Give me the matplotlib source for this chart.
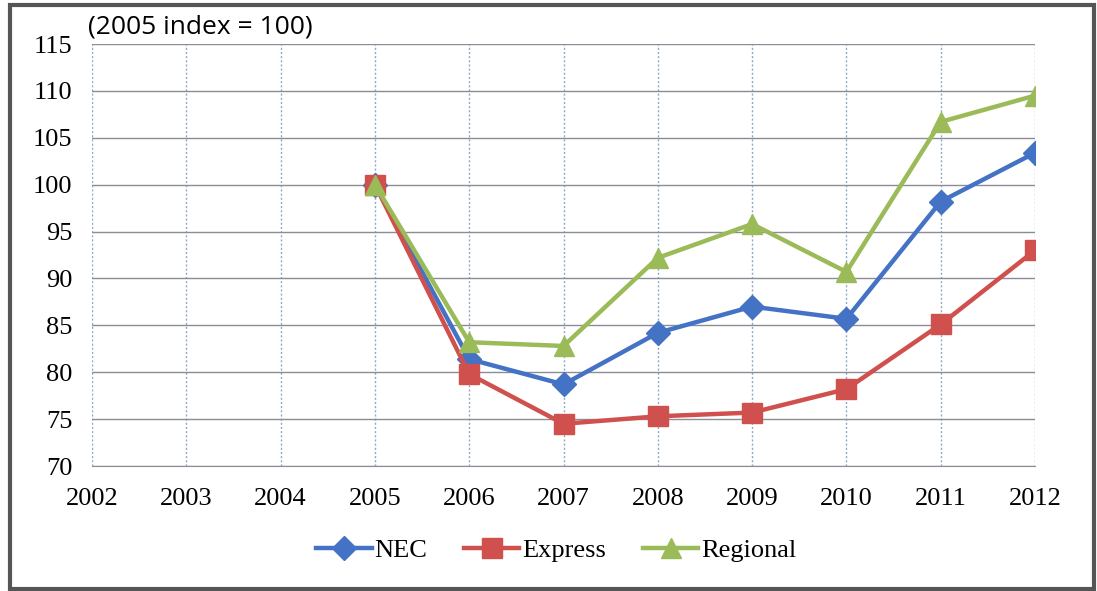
import matplotlib
matplotlib.use("Agg")
import matplotlib.pyplot as plt
import matplotlib.patches as mpatches

years = [2002, 2003, 2004, 2005, 2006, 2007, 2008, 2009, 2010, 2011, 2012]
year_labels = [str(y) for y in years]
y_ticks = [70, 75, 80, 85, 90, 95, 100, 105, 110, 115]
y_labels = [str(v) for v in y_ticks]
data_years = [2005, 2006, 2007, 2008, 2009, 2010, 2011, 2012]
nec = [100, 81.4, 78.7, 84.2, 87.0, 85.7, 98.2, 103.4]
express = [100, 79.8, 74.5, 75.3, 75.7, 78.2, 85.1, 93.0]
regional = [100, 83.2, 82.8, 92.2, 95.8, 90.7, 106.7, 109.5]

plt.rcParams["font.family"] = "Liberation Serif"

fig = plt.figure(figsize=(10.97, 5.91), dpi=100)
ax = fig.add_axes([0.0839, 0.2115, 0.8596, 0.714])

ax.plot(data_years, nec, color="#4472C4", lw=3.2, marker="D", ms=12, label="NEC")
ax.plot(data_years, express, color="#D0504D", lw=3.2, marker="s", ms=14, label="Express")
ax.plot(data_years, regional, color="#9BBB59", lw=3.2, marker="^", ms=15, label="Regional")

ax.set_xlim(2002, 2012)
ax.set_ylim(70, 115)
ax.set_xticks(years)
ax.set_xticklabels(year_labels, family="Liberation Serif")
ax.set_yticks(y_ticks)
ax.set_yticklabels(y_labels, family="Liberation Serif")
ax.yaxis.grid(True, color="#8c8c96", lw=1)
ax.xaxis.grid(True, color="#8fa8c8", lw=1, ls=(0, (1.5, 1.5)))
ax.set_axisbelow(True)
for s in ["top", "right", "left"]:
    ax.spines[s].set_visible(False)
ax.spines["bottom"].set_color("#8c8c96")
ax.tick_params(length=0, labelsize=19)
ax.tick_params(axis="y", pad=14)
ax.tick_params(axis="x", pad=16)

fig.text(0.08, 0.955, "(2005 index = 100)", fontsize=19, family="Open Sans", va="center")

leg = fig.legend(loc="center", bbox_to_anchor=(0.507, 0.069), ncol=3, frameon=False,
                 prop={"size": 19}, handlelength=2.1, handletextpad=0.1, columnspacing=1.4)

fig.patches.append(mpatches.Rectangle((0.009, 0.004), 0.988, 0.988, transform=fig.transFigure,
                                      fill=False, edgecolor="#555555", lw=3))

fig.savefig("out.png", dpi=100)
